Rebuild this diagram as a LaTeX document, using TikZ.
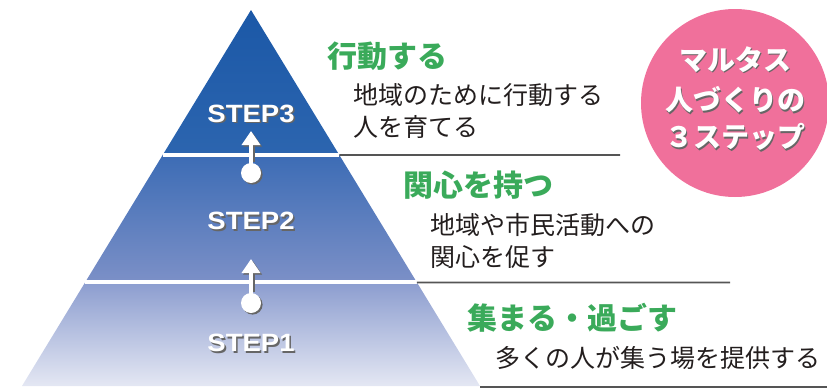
\documentclass[tikz,border=0pt]{standalone}
\usepackage{fontspec}
\setmainfont{Liberation Sans}
\newfontfamily\jp{Noto Sans CJK JP}
\usetikzlibrary{arrows.meta}
\usetikzlibrary{calc}
\usetikzlibrary{shadows}

\definecolor{headgreen}{RGB}{58,170,90}
\definecolor{bodyink}{RGB}{35,30,30}
\definecolor{badgepink}{RGB}{240,112,155}
\definecolor{ruleink}{RGB}{85,85,85}
\definecolor{blueA}{RGB}{27,88,167}
\definecolor{blueB}{RGB}{44,101,175}
\definecolor{blueC}{RGB}{60,108,181}
\definecolor{blueD}{RGB}{124,144,199}
\definecolor{blueE}{RGB}{140,157,207}
\definecolor{blueF}{RGB}{228,231,243}

\newcommand\shadowed[1]{\rlap{\kern1.6pt\raisebox{-1.6pt}{\color{black!60}#1}}#1}

\begin{document}
\begin{tikzpicture}[x=1pt,y=-1pt]
	\useasboundingbox (0,0) rectangle (827,388);

	\coordinate (apex) at (251,10);
	\coordinate (bl) at (22,386);
	\coordinate (br) at (480,386);
	\coordinate (l3) at ($(apex)!0.3856!(bl)$);
	\coordinate (r3) at ($(apex)!0.3856!(br)$);
	\coordinate (l2) at ($(apex)!0.7247!(bl)$);
	\coordinate (r2) at ($(apex)!0.7247!(br)$);
	\coordinate (e3) at (620,155);
	\coordinate (e2) at (730,282.5);
	\coordinate (e1) at (827,387);
	\coordinate (b1) at (480,387);

	\shade[top color=blueA, bottom color=blueB] (apex) -- (r3) -- (l3) -- cycle;
	\shade[top color=blueC, bottom color=blueD] (l3) -- (r3) -- (r2) -- (l2) -- cycle;
	\shade[top color=blueE, bottom color=blueF] (l2) -- (r2) -- (br) -- (bl) -- cycle;

	\draw[white, line width=4pt] (l3) -- (r3);
	\draw[white, line width=4pt] (l2) -- (r2);

	\begin{scope}[every path/.style={draw=ruleink, line width=1.6pt}]
		\path (r3) -- (e3);
		\path (r2) -- (e2);
		\path (b1) -- (e1);
	\end{scope}

	\begin{scope}[every node/.style={text=white, inner sep=0pt, font=\fontsize{25}{27}\selectfont\bfseries}]
		\node (s3) at (251,114.5) {\shadowed{\scalebox{1.1}[1]{STEP3}}};
		\node (s2) at (251,222) {\shadowed{\scalebox{1.1}[1]{STEP2}}};
		\node (s1) at (251,344) {\shadowed{\scalebox{1.1}[1]{STEP1}}};
	\end{scope}

	\begin{scope}[every node/.style={circle, fill=white, inner sep=0pt, minimum size=20pt,
	              drop shadow={shadow xshift=1.6pt, shadow yshift=-1.6pt, fill=black!60, opacity=1}}]
		\node (d3) at (251,173) {};
		\node (d2) at (251,303) {};
	\end{scope}
	\coordinate (t3) at (251,131);
	\coordinate (t2) at (251,259);

	\begin{scope}[>={Triangle[length=14pt 0 0, width=18pt 0 0]}, line width=4pt]
		\draw[->, black!60, shorten <=2pt, transform canvas={shift={(1.6pt,-1.6pt)}}] (d3) -- (t3);
		\draw[->, black!60, shorten <=2pt, transform canvas={shift={(1.6pt,-1.6pt)}}] (d2) -- (t2);
		\draw[->, white] (d3.center) -- (t3);
		\draw[->, white] (d2.center) -- (t2);
	\end{scope}

	\begin{scope}[every node/.style={anchor=west, inner sep=0pt, text=headgreen, font=\jp\fontsize{30}{32}\selectfont\bfseries}]
		\node (h3) at (327,56) {行動する};
		\node (h2) at (403,185) {関心を持つ};
		\node (h1) at (467,318) {集まる・過ごす};
	\end{scope}

	\begin{scope}[every node/.style={anchor=west, inner sep=0pt, text=bodyink, font=\jp\fontsize{25}{27}\selectfont}]
		\node (p3a) at (353,95) {地域のために行動する};
		\node (p3b) at (353,127) {人を育てる};
		\node (p2a) at (430,225) {地域や市民活動への};
		\node (p2b) at (430,257) {関心を促す};
		\node (p1a) at (495,358) {多くの人が集う場を提供する};
	\end{scope}

	\node[circle, fill=badgepink, minimum size=188pt, inner sep=0pt] (badge) at (735,103) {};
	\begin{scope}[every node/.style={text=white, inner sep=0pt, font=\jp\fontsize{28}{30}\selectfont\bfseries}]
		\node (m1) at (735,60) {\shadowed{マルタス}};
		\node (m2) at (735,101) {\shadowed{人づくりの}};
		\node (m3) at (735,138) {\shadowed{３ステップ}};
	\end{scope}
\end{tikzpicture}
\end{document}
